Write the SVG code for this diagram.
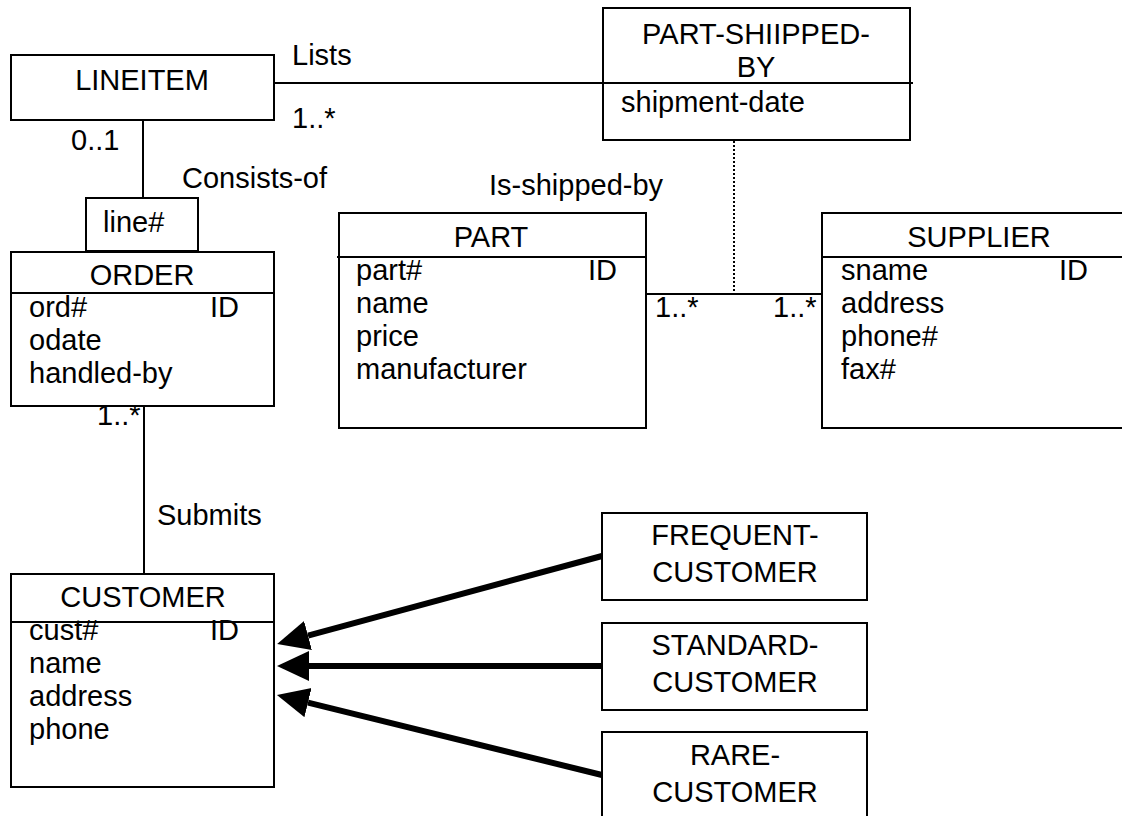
<svg xmlns="http://www.w3.org/2000/svg" width="1122" height="816" viewBox="0 0 1122 816">
  <style>
    text { font-family: "Liberation Sans", Arial, sans-serif; font-size: 29px; fill: #000; }
    .c { text-anchor: middle; }
    .box { fill: #fff; stroke: #000; stroke-width: 2; }
    .ln { fill: none; stroke: #000; stroke-width: 2; }
    .dot { fill: none; stroke: #000; stroke-width: 2; stroke-dasharray: 2 2; }
    .gen { fill: none; stroke: #000; stroke-width: 6; }
  </style>
  <defs>
    <marker id="head" markerUnits="userSpaceOnUse" markerWidth="34" markerHeight="32" refX="0" refY="15" orient="auto">
      <path d="M0,0 L32,15 L0,30 Z" fill="#000"/>
    </marker>
  </defs>

  <rect width="1122" height="816" fill="#fff"/>

  <!-- connectors -->
  <g id="connectors">
    <line class="ln" x1="274" y1="83" x2="603" y2="83"/>
    <line class="ln" x1="143" y1="120" x2="143" y2="198"/>
    <line class="ln" x1="646" y1="294" x2="822" y2="294"/>
    <line class="dot" x1="734" y1="141" x2="734" y2="293"/>
    <line class="ln" x1="144" y1="406" x2="144" y2="574"/>
    <path class="gen" d="M602,556 L308,635.6" marker-end="url(#head)"/>
    <path class="gen" d="M602,666 L309,666" marker-end="url(#head)"/>
    <path class="gen" d="M602,775 L308,702.6" marker-end="url(#head)"/>
  </g>

  <!-- connector labels -->
  <g id="labels">
    <text x="292" y="65">Lists</text>
    <text x="292" y="128">1..*</text>
    <text x="71" y="150">0..1</text>
    <text x="182" y="188">Consists-of</text>
    <text x="489" y="195">Is-shipped-by</text>
    <text x="655" y="317">1..*</text>
    <text x="773" y="317">1..*</text>
    <text x="97" y="425">1..*</text>
    <text x="157" y="525">Submits</text>
  </g>

  <g id="lineitem">
    <rect class="box" x="11" y="55" width="263" height="65"/>
    <text class="c" x="142" y="90">LINEITEM</text>
  </g>

  <g id="part-shipped-by">
    <rect class="box" x="603" y="8" width="307" height="132"/>
    <line class="ln" x1="603" y1="83" x2="913" y2="83"/>
    <text class="c" x="756" y="44">PART-SHIIPPED-</text>
    <text class="c" x="756" y="77">BY</text>
    <text x="621" y="112">shipment-date</text>
  </g>

  <g id="line-qualifier">
    <rect class="box" x="86" y="198" width="112" height="53"/>
    <text x="103" y="232">line#</text>
  </g>

  <g id="order">
    <rect class="box" x="11" y="252" width="263" height="154"/>
    <line class="ln" x1="11" y1="293" x2="274" y2="293"/>
    <text class="c" x="142" y="285">ORDER</text>
    <text x="29" y="317">ord#</text>
    <text x="210" y="317">ID</text>
    <text x="29" y="350">odate</text>
    <text x="29" y="383">handled-by</text>
  </g>

  <g id="part">
    <rect class="box" x="339" y="213" width="307" height="215"/>
    <line class="ln" x1="337" y1="257" x2="646" y2="257"/>
    <text class="c" x="491" y="247">PART</text>
    <text x="356" y="280">part#</text>
    <text x="588" y="280">ID</text>
    <text x="356" y="313">name</text>
    <text x="356" y="346">price</text>
    <text x="356" y="379">manufacturer</text>
  </g>

  <g id="supplier">
    <rect class="box" x="822" y="213" width="310" height="215"/>
    <line class="ln" x1="822" y1="257" x2="1132" y2="257"/>
    <text class="c" x="979" y="247">SUPPLIER</text>
    <text x="841" y="280">sname</text>
    <text x="1059" y="280">ID</text>
    <text x="841" y="313">address</text>
    <text x="841" y="346">phone#</text>
    <text x="841" y="379">fax#</text>
  </g>

  <g id="customer">
    <rect class="box" x="11" y="574" width="263" height="213"/>
    <line class="ln" x1="11" y1="622" x2="274" y2="622"/>
    <text class="c" x="143" y="607">CUSTOMER</text>
    <text x="29" y="640">cust#</text>
    <text x="210" y="640">ID</text>
    <text x="29" y="673">name</text>
    <text x="29" y="706">address</text>
    <text x="29" y="739">phone</text>
  </g>

  <g id="frequent-customer">
    <rect class="box" x="602" y="513" width="265" height="87"/>
    <text class="c" x="735" y="545">FREQUENT-</text>
    <text class="c" x="735" y="582">CUSTOMER</text>
  </g>

  <g id="standard-customer">
    <rect class="box" x="602" y="623" width="265" height="87"/>
    <text class="c" x="735" y="655">STANDARD-</text>
    <text class="c" x="735" y="692">CUSTOMER</text>
  </g>

  <g id="rare-customer">
    <rect class="box" x="602" y="732" width="265" height="87"/>
    <text class="c" x="735" y="765">RARE-</text>
    <text class="c" x="735" y="802">CUSTOMER</text>
  </g>
</svg>
